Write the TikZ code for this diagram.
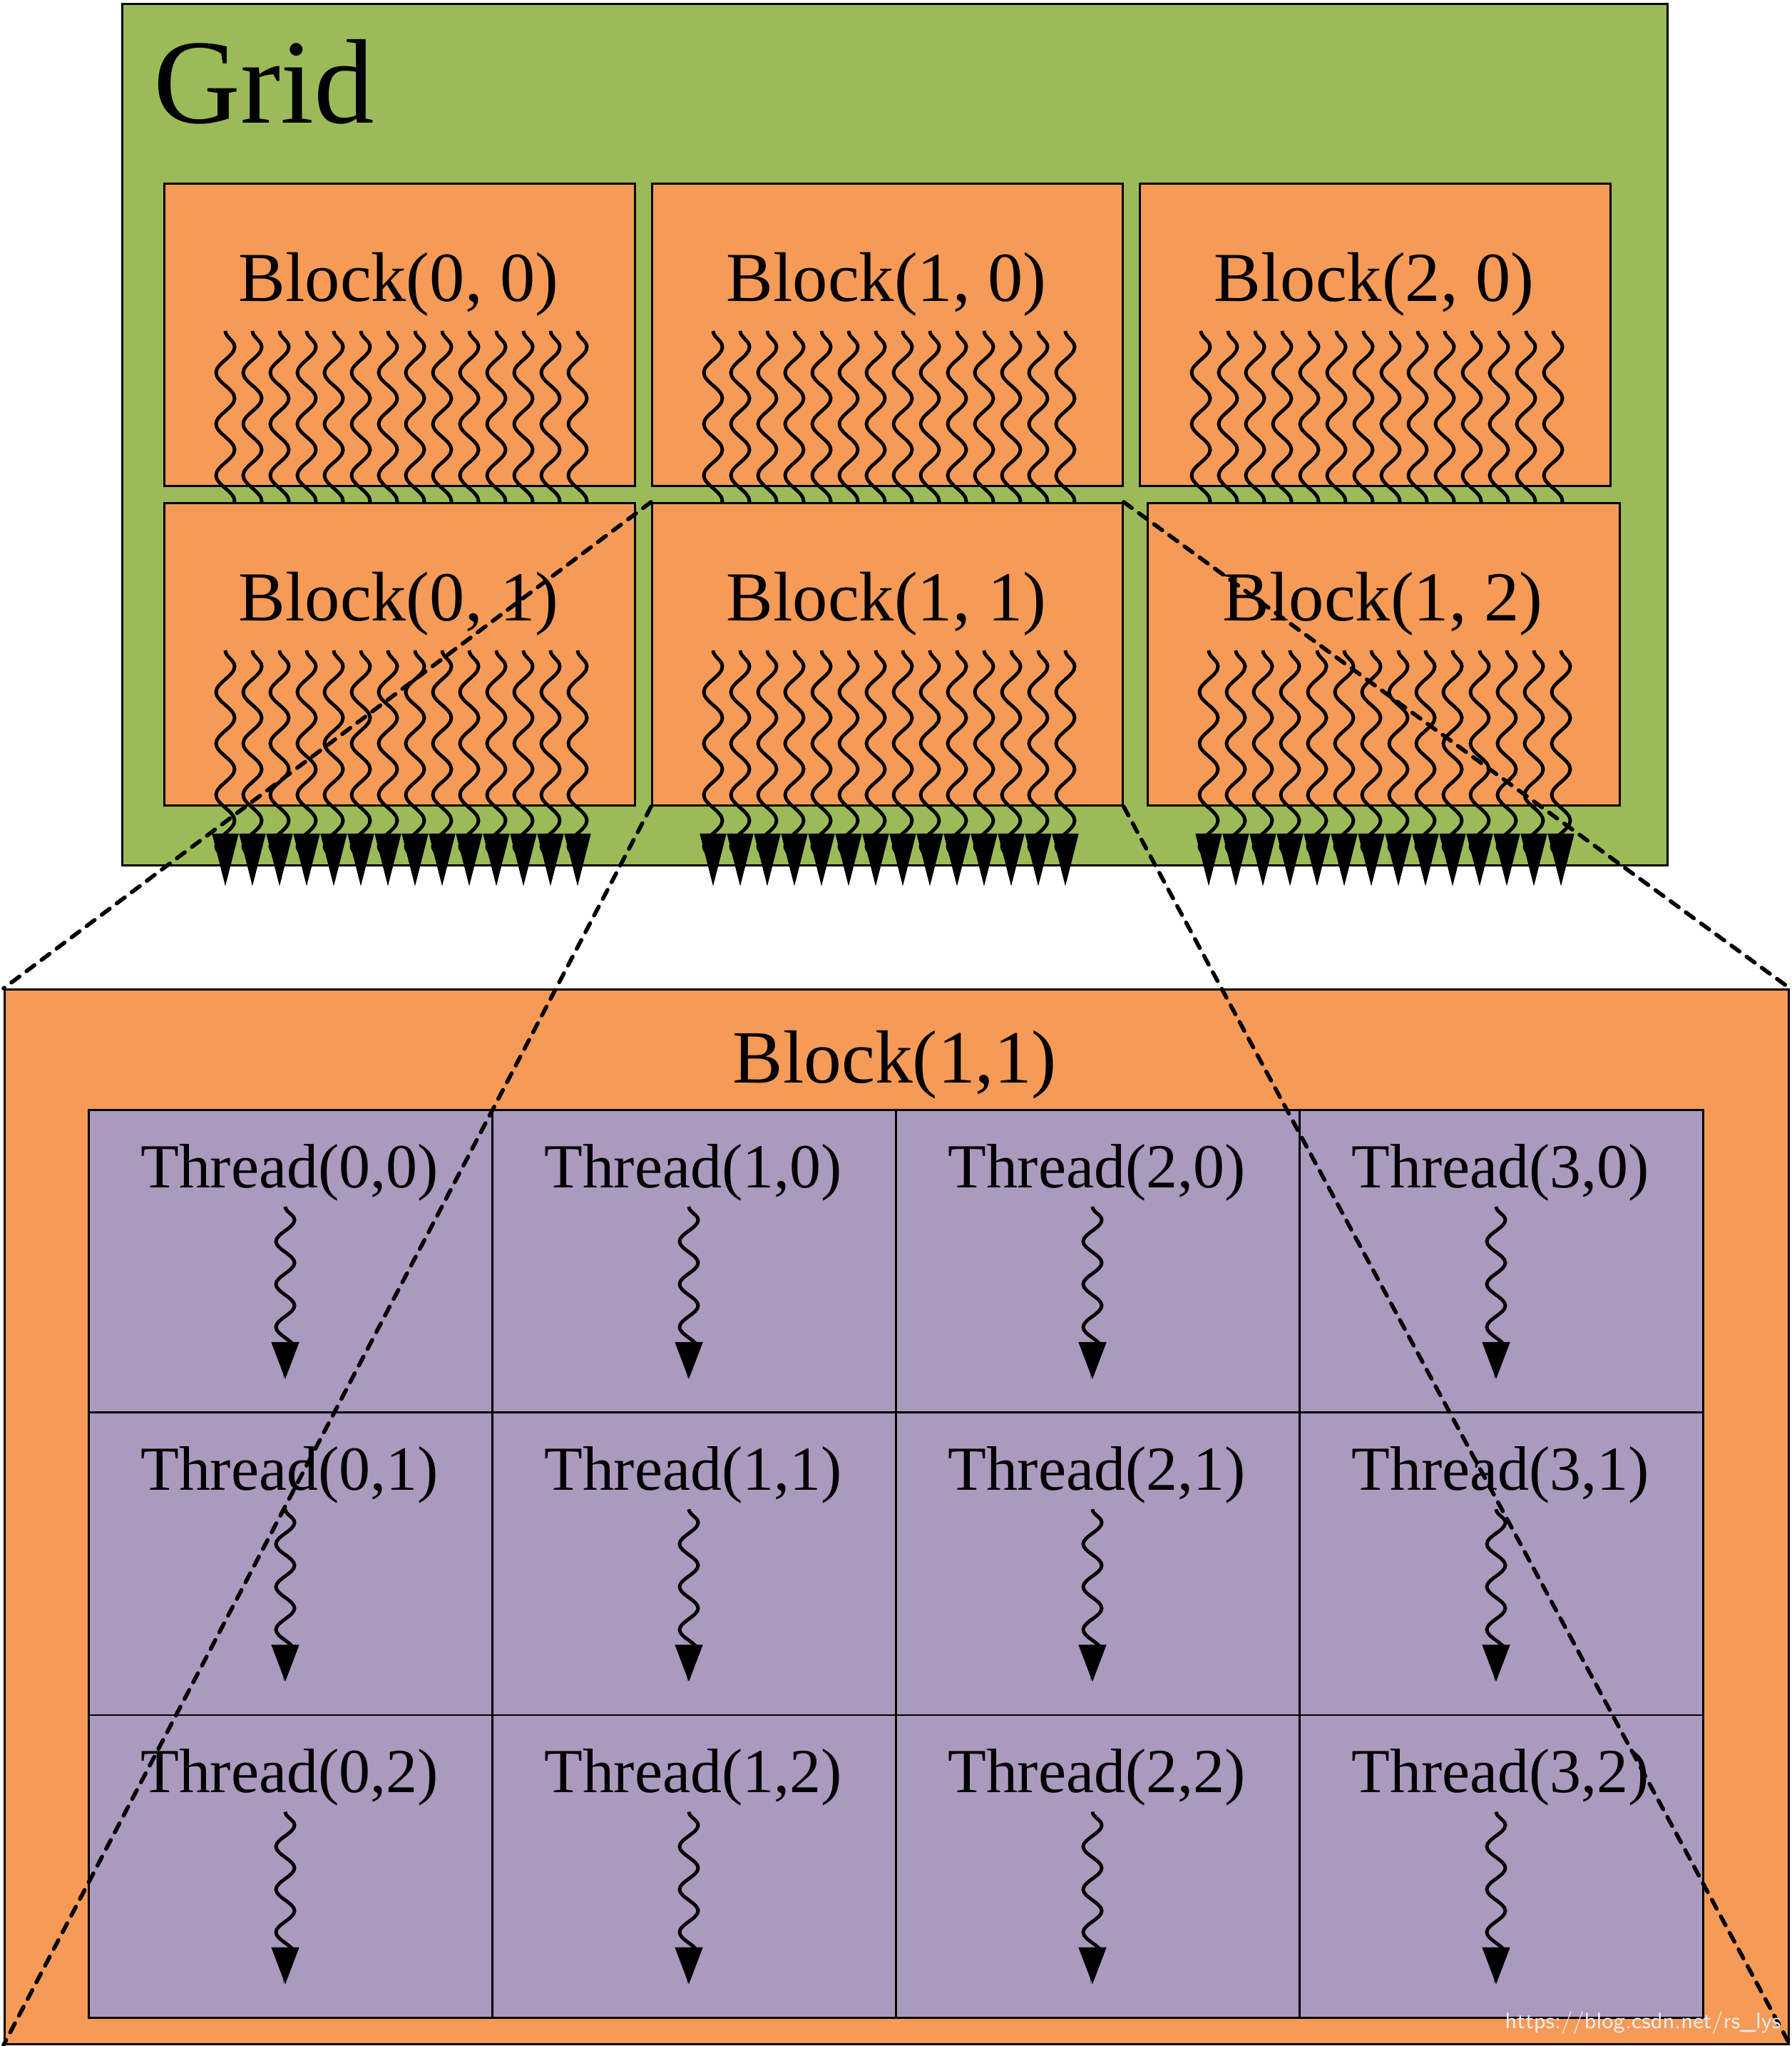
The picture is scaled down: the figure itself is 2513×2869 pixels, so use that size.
\documentclass[tikz,border=0pt]{standalone}
\usepackage{fontspec}
\setmainfont{Liberation Serif}
\usetikzlibrary{decorations.pathmorphing,arrows.meta}
\definecolor{gridg}{HTML}{9BBB59}
\definecolor{blko}{HTML}{F59B57}
\definecolor{thrp}{HTML}{A99ABE}
\begin{document}
\begin{tikzpicture}[x=0.01cm,y=-0.01cm,
  box/.style={draw=black,line width=0.8pt,anchor=north west,inner sep=0pt},
  wav/.style={line width=1.4pt,decorate,decoration={snake,amplitude=0.13cm,segment length=0.72cm,post length=0.12cm}},
  wavt/.style={line width=1.4pt,decorate,decoration={snake,amplitude=0.13cm,segment length=0.6cm,post length=0.1cm}},
  dl/.style={line width=1.6pt,dash pattern=on 4pt off 3.5pt,line cap=round}]
\useasboundingbox (0,0) rectangle (2513,2869);
\node[box,fill=gridg,minimum width=21.66cm,minimum height=12.07cm] (grid) at (170,4) {};
\node[anchor=base west,font=\fontsize{48}{50}\selectfont] (gt) at (203,172) {Grid};
% blocks
\foreach \n/\x/\y/\w/\t in {b00/229/256/660/{Block(0, 0)},b10/913/256/660/{Block(1, 0)},b20/1597/256/660/{Block(2, 0)},
  b01/229/704/660/{Block(0, 1)},b11/913/704/660/{Block(1, 1)},b12/1608/704/662/{Block(1, 2)}}{
  \node[box,fill=blko,minimum width=\w*0.01cm,minimum height=4.24cm] (\n) at (\x,\y) {};
  \node[anchor=base,font=\fontsize{28}{30}\selectfont] (\n t) at (\x+\w/2,\y+166) {\t};
  \foreach \i in {0,...,13}{
    \draw[wav,-{Triangle[width=0.36cm,length=0.74cm]}] (\x+87+\i*38,\y+208) -- (\x+87+\i*38,\y+539);
  }
}
% big block
\node[box,fill=blko,minimum width=25.01cm,minimum height=14.78cm] (big) at (5,1386) {};
\node[anchor=base,font=\fontsize{30}{32}\selectfont] (bigt) at (1255,1518) {Block(1,1)};
\foreach \c in {0,...,3}{
  \foreach \r in {0,...,2}{
    \node[box,fill=thrp,minimum width=5.66cm,minimum height=4.243cm] (t\c\r) at (123+\c*566,1555+\r*424.3) {};
    \node[anchor=base,font=\fontsize{25}{27}\selectfont] (t\c\r l) at (123+\c*566+283,1555+\r*424.3+110) {Thread(\c,\r)};
    \draw[wavt,-{Triangle[width=0.38cm,length=0.52cm]}] (123+\c*566+277,1555+\r*424.3+137) -- (123+\c*566+277,1555+\r*424.3+379);
  }
}
% dashed zoom lines
\draw[dl] (b11.north west) -- (big.north west);
\draw[dl] (b11.south west) -- (big.south west);
\draw[dl] (b11.north east) -- (big.north east);
\draw[dl] (b11.south east) -- (big.south east);
\node[anchor=south east,text=white!85!gray,font=\sffamily\fontsize{9}{10}\selectfont,inner sep=2pt] (wm) at (2505,2860) {https://blog.csdn.net/rs\_lys};
\end{tikzpicture}
\end{document}
